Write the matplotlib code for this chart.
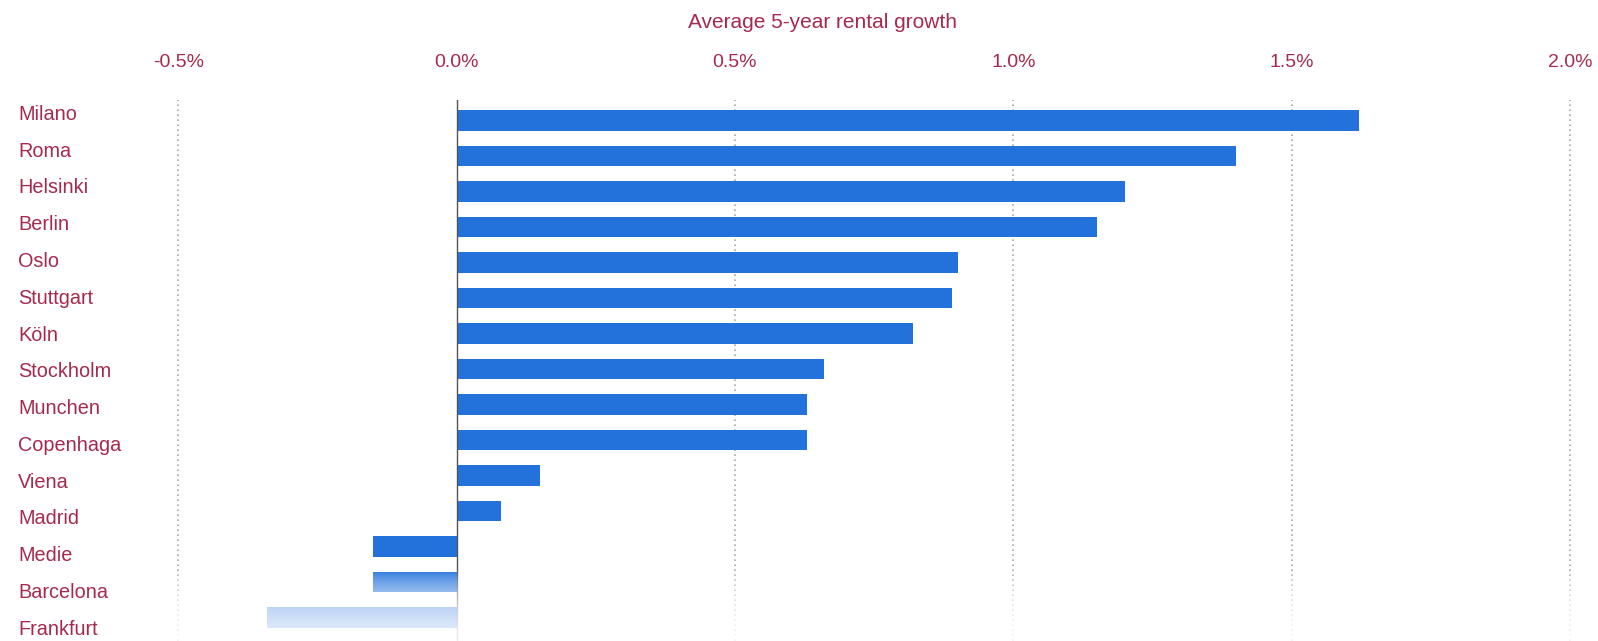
import matplotlib
matplotlib.use('Agg')
import matplotlib.pyplot as plt
import numpy as np

cities = ['Milano', 'Roma', 'Helsinki', 'Berlin', 'Oslo', 'Stuttgart', 'Köln',
          'Stockholm', 'Munchen', 'Copenhaga', 'Viena', 'Madrid', 'Medie',
          'Barcelona', 'Frankfurt']
growth = [1.62, 1.40, 1.20, 1.15, 0.90, 0.89, 0.82,
          0.66, 0.63, 0.63, 0.15, 0.08, -0.15,
          -0.15, -0.34]
tick_values = [-0.5, 0.0, 0.5, 1.0, 1.5, 2.0]
tick_labels = ['-0.5%', '0.0%', '0.5%', '1.0%', '1.5%', '2.0%']
title = 'Average 5-year rental growth'

TEXT_COLOR = '#a52a4c'
BAR_COLOR = '#2372dc'

plt.rcParams['font.family'] = ['Liberation Sans', 'DejaVu Sans']

fig = plt.figure(figsize=(15.98, 6.41), dpi=100)
ax = fig.add_axes([0, 0, 1, 1 - 100 / 641])

y = np.arange(len(cities))
ax.barh(y, growth, height=0.58, color=BAR_COLOR, zorder=3)

ax.set_xlim(-0.820, 2.050)
ax.set_ylim(14.655, -0.571)

# dotted grid lines, solid zero line
for v in tick_values:
    if v == 0:
        continue
    ax.axvline(v, color='#a8a8a8', lw=1.2, ls=(0, (1, 2)), zorder=1)
ax.axvline(0, color='#555555', lw=1.0, zorder=4)

ax.xaxis.tick_top()
ax.set_xticks(tick_values)
ax.set_xticklabels(tick_labels)
ax.tick_params(axis='x', length=0, pad=21, labelsize=14, labelcolor=TEXT_COLOR)
ax.set_yticks([])
for s in ax.spines.values():
    s.set_visible(False)

# white fade over the bottom of the plot area
n = 73
fade_ax = fig.add_axes([0.06, 0, 0.94, n / 641], zorder=10)
fade_ax.axis('off')
d = np.arange(n)[::-1]  # pixels below the fade start, bottom row first
grad = np.ones((n, 1, 4))
grad[:, 0, 3] = 1 - np.exp(-0.031 * d)
fade_ax.imshow(grad, aspect='auto', extent=[0, 1, 0, 1], origin='lower')
fade_ax.set_xlim(0, 1)
fade_ax.set_ylim(0, 1)

# city labels, left aligned, drawn above the fade
ax_top = 1 - 100 / 641
span = 14.655 + 0.571
label_step = 36.1 / 34.86
for i, name in enumerate(cities):
    yl = -0.17 + i * label_step
    fy = ax_top * (1 - (yl + 0.571) / span)
    fig.text(0.0115, fy, name, ha='left', va='center', fontsize=14.3,
             color=TEXT_COLOR, zorder=20)

fig.text(0.5147, 1 - 22 / 641, title, ha='center', va='center',
         fontsize=15, color=TEXT_COLOR)

fig.savefig('out.png', dpi=100)
